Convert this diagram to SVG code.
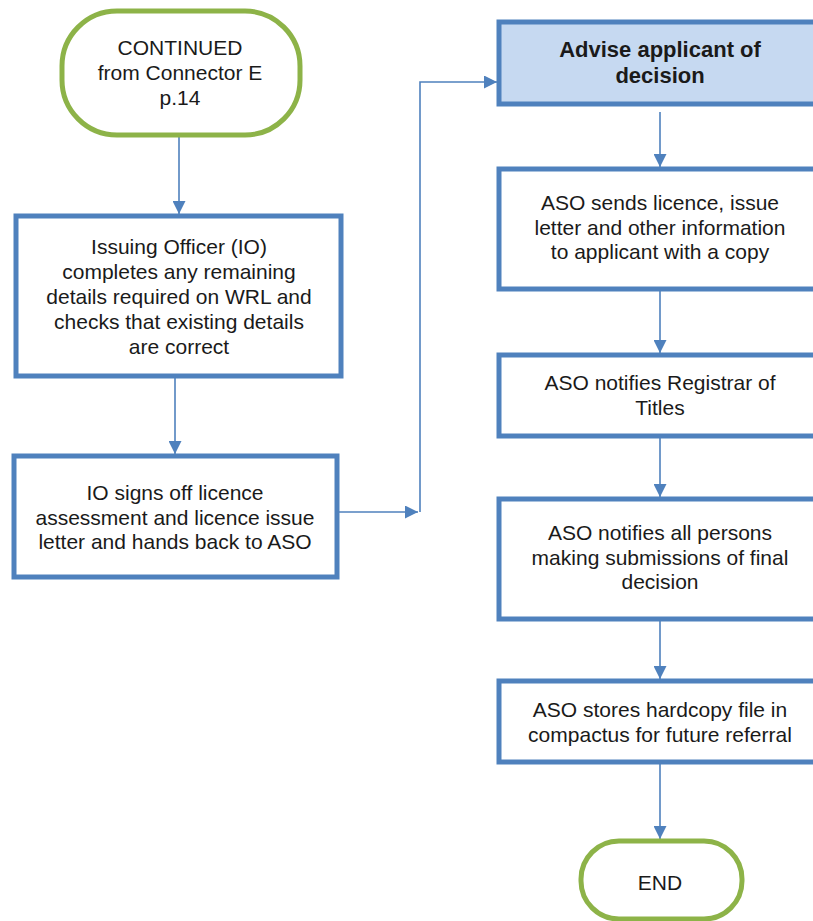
<svg xmlns="http://www.w3.org/2000/svg" width="813" height="921" viewBox="0 0 813 921">
  <defs>
    <marker id="arrow" viewBox="0 0 10 10" refX="10" refY="5" markerWidth="13" markerHeight="13" markerUnits="userSpaceOnUse" orient="auto">
      <path d="M0,0 L10,5 L0,10 z" fill="#4F81BD"/>
    </marker>
    <style>
      .term { fill: #FFFFFF; stroke: #8DB348; stroke-width: 5; }
      .proc { fill: #FFFFFF; stroke: #4F81BD; stroke-width: 5; }
      .head { fill: #C6D9F1; stroke: #4F81BD; stroke-width: 5; }
      .conn { fill: none; stroke: #4F81BD; stroke-width: 1.6; marker-end: url(#arrow); }
      text { font-family: "Liberation Sans", Arial, sans-serif; font-size: 21px; fill: #1A1A1A; text-anchor: middle; }
      .bold { font-weight: bold; font-size: 22px; }
    </style>
  </defs>

  <g id="connectors">
    <path class="conn" d="M179,137 L179,214"/>
    <path class="conn" d="M175,378 L175,454"/>
    <path class="conn" d="M339,512 L418,512"/>
    <path class="conn" d="M420,512 L420,82 L497,82"/>
    <path class="conn" d="M660,112 L660,167"/>
    <path class="conn" d="M660,291 L660,353"/>
    <path class="conn" d="M660,438 L660,497"/>
    <path class="conn" d="M660,621 L660,679"/>
    <path class="conn" d="M660,764 L660,839"/>
  </g>

  <g id="start">
    <rect class="term" x="62" y="11" width="238" height="124" rx="55" ry="55"/>
    <text x="180" y="55">CONTINUED</text>
    <text x="180" y="80">from Connector E</text>
    <text x="180" y="105">p.14</text>
  </g>

  <g id="io-completes">
    <rect class="proc" x="16" y="216" width="325" height="160"/>
    <text x="179" y="254">Issuing Officer (IO)</text>
    <text x="179" y="279">completes any remaining</text>
    <text x="179" y="304">details required on WRL and</text>
    <text x="179" y="329">checks that existing details</text>
    <text x="179" y="354">are correct</text>
  </g>

  <g id="io-signs">
    <rect class="proc" x="14" y="456" width="323" height="121"/>
    <text x="175" y="500">IO signs off licence</text>
    <text x="175" y="525">assessment and licence issue</text>
    <text x="175" y="549">letter and hands back to ASO</text>
  </g>

  <g id="advise">
    <rect class="head" x="499" y="22" width="324" height="82"/>
    <text class="bold" x="660" y="57">Advise applicant of</text>
    <text class="bold" x="660" y="83">decision</text>
  </g>

  <g id="aso-sends">
    <rect class="proc" x="499" y="169" width="324" height="120"/>
    <text x="660" y="210">ASO sends licence, issue</text>
    <text x="660" y="235">letter and other information</text>
    <text x="660" y="259">to applicant with a copy</text>
  </g>

  <g id="aso-registrar">
    <rect class="proc" x="499" y="355" width="324" height="81"/>
    <text x="660" y="390">ASO notifies Registrar of</text>
    <text x="660" y="415">Titles</text>
  </g>

  <g id="aso-persons">
    <rect class="proc" x="499" y="499" width="324" height="120"/>
    <text x="660" y="540">ASO notifies all persons</text>
    <text x="660" y="565">making submissions of final</text>
    <text x="660" y="589">decision</text>
  </g>

  <g id="aso-stores">
    <rect class="proc" x="499" y="681" width="324" height="81"/>
    <text x="660" y="717">ASO stores hardcopy file in</text>
    <text x="660" y="742">compactus for future referral</text>
  </g>

  <g id="end">
    <rect class="term" x="581" y="841" width="161" height="78" rx="38" ry="38"/>
    <text x="660" y="890">END</text>
  </g>
</svg>
